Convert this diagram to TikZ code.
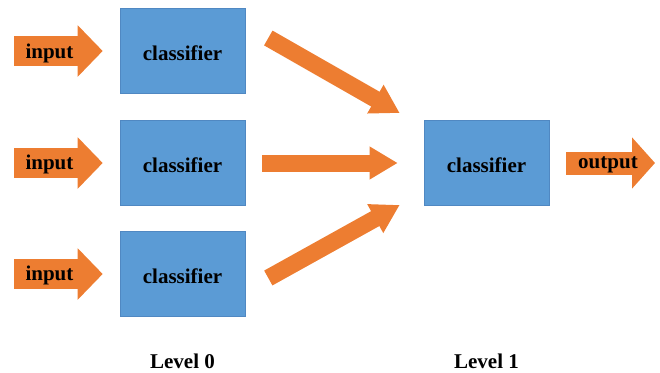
\documentclass[tikz,border=0pt]{standalone}
\usepackage{fontspec}
\setmainfont{Liberation Serif}
\usetikzlibrary{arrows.meta}
\definecolor{boxblue}{HTML}{5B9BD5}
\definecolor{boxline}{HTML}{5088C2}
\definecolor{arrorange}{HTML}{ED7D31}
\tikzset{
  clsbox/.style={fill=boxblue, draw=boxline, line width=0.6pt, minimum width=125pt, minimum height=85pt, inner sep=0pt,
    font=\fontsize{21pt}{24pt}\selectfont\bfseries, text height=18pt, text depth=0pt},
  lbl/.style={font=\fontsize{21pt}{24pt}\selectfont\bfseries, inner sep=0pt},
  inarrow/.style={draw=arrorange, line width=30pt, -{Triangle[length=25pt, width=50pt, fill=arrorange]}},
  outarrow/.style={draw=arrorange, line width=23pt, -{Triangle[length=23pt, width=50pt, fill=arrorange]}},
  conn/.style={draw=arrorange, line width=17pt, -{Triangle[length=28pt, width=31pt, fill=arrorange]}},
}
\begin{document}
\begin{tikzpicture}[x=1pt, y=-1pt]
\useasboundingbox (0,0) rectangle (660,372);
\node[clsbox] (c1) at (182.5,51) {classifier};
\node[clsbox] (c2) at (182.5,163) {classifier};
\node[clsbox] (c3) at (182.5,274) {classifier};
\node[clsbox] (f) at (486.5,163) {classifier};
\coordinate (i1) at (14,51);
\coordinate (i2) at (14,163);
\coordinate (i3) at (14,274);
\coordinate (o) at (655,163);
\draw[inarrow] (i1) -- node[lbl, pos=0.4, anchor=base, yshift=-7pt] {input} ([xshift=-17pt]c1.west);
\draw[inarrow] (i2) -- node[lbl, pos=0.4, anchor=base, yshift=-6pt] {input} ([xshift=-17pt]c2.west);
\draw[inarrow] (i3) -- node[lbl, pos=0.4, anchor=base, yshift=-6pt] {input} ([xshift=-17pt]c3.west);
\draw[outarrow] ([xshift=17pt]f.east) -- node[lbl, pos=0.47, anchor=base, yshift=-5pt] {output} (o);
\draw[conn] ([xshift=23pt, yshift=13pt]c1.east) -- ([xshift=-24pt, yshift=50pt]f.west);
\draw[conn] ([xshift=17pt]c2.east) -- ([xshift=-26pt]f.west);
\draw[conn] ([xshift=23pt, yshift=-4pt]c3.east) -- ([xshift=-24pt, yshift=-42pt]f.west);
\node[lbl, anchor=base] (l0) at (182.5,368) {Level 0};
\node[lbl, anchor=base] (l1) at (486.5,368) {Level 1};
\end{tikzpicture}
\end{document}
